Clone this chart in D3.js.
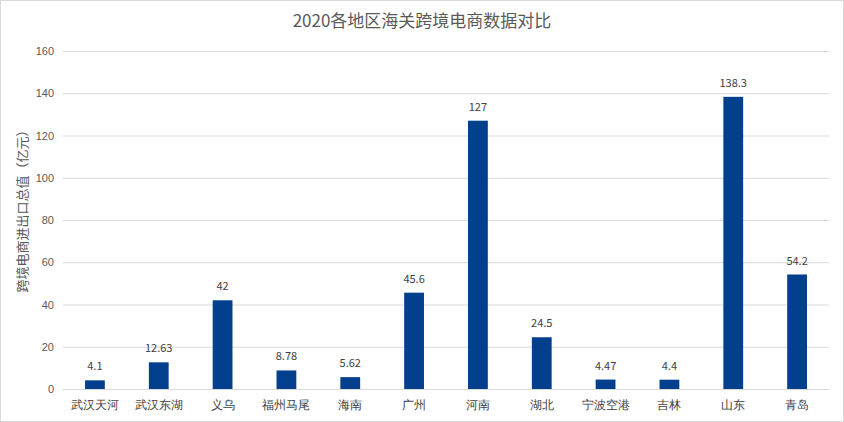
<!DOCTYPE html>
<html><head><meta charset="utf-8">
<script src="https://cdn.jsdelivr.net/npm/d3@7"></script>
<style>
html,body{margin:0;padding:0;background:#fff;}
svg{display:block;font-family:"Noto Sans CJK SC","Noto Sans",sans-serif;}
</style></head>
<body>
<script>
const categories = ["武汉天河","武汉东湖","义乌","福州马尾","海南","广州","河南","湖北","宁波空港","吉林","山东","青岛"];
const values = [4.1, 12.63, 42, 8.78, 5.62, 45.6, 127, 24.5, 4.47, 4.4, 138.3, 54.2];
const valueLabels = ["4.1","12.63","42","8.78","5.62","45.6","127","24.5","4.47","4.4","138.3","54.2"];
const yTicks = [0,20,40,60,80,100,120,140,160];
const title = "2020各地区海关跨境电商数据对比";
const yTitle = "跨境电商进出口总值（亿元）";

const W = 844, H = 422;
const m = {left:63, right:15, top:51, bottom:33};
const svg = d3.select("body").append("svg").attr("width", W).attr("height", H);
svg.append("rect").attr("x",0.5).attr("y",0.5).attr("width",W-1).attr("height",H-1)
  .attr("fill","#fff").attr("stroke","#d9d9d9");

const x = d3.scaleBand().domain(categories).range([m.left, W-m.right]).paddingInner(0.69).paddingOuter(0.345);
const y = d3.scaleLinear().domain([0,160]).range([H-m.bottom, m.top]);

svg.append("text").attr("x", W/2).attr("y", 27).attr("text-anchor","middle")
  .attr("font-size",17).attr("fill","#595959").text(title);

const ya = svg.append("g").attr("transform",`translate(${m.left},0)`)
  .call(d3.axisLeft(y).tickValues(yTicks).tickSize(-(W-m.left-m.right)).tickPadding(9));
ya.select(".domain").remove();
ya.selectAll(".tick line").attr("stroke","#d9d9d9");
ya.selectAll(".tick text").attr("fill","#595959").attr("font-size",11);

const xa = svg.append("g").attr("transform",`translate(0,${H-m.bottom})`)
  .call(d3.axisBottom(x).tickSize(0).tickPadding(11));
xa.select(".domain").attr("stroke","#d9d9d9");
xa.selectAll(".tick text").attr("fill","#404040").attr("font-size",12);

svg.append("text").attr("transform",`translate(27,208) rotate(-90)`)
  .attr("text-anchor","middle").attr("font-size",13).attr("fill","#595959").text(yTitle);

svg.selectAll(".bar").data(values).enter().append("rect")
  .attr("x",(d,i)=>x(categories[i])).attr("width",x.bandwidth())
  .attr("y",d=>y(d)).attr("height",d=>y(0)-y(d)).attr("fill","#023f8c");

svg.selectAll(".vl").data(values).enter().append("text")
  .attr("x",(d,i)=>x(categories[i])+x.bandwidth()/2).attr("y",d=>y(d)-10)
  .attr("text-anchor","middle").attr("font-size",11).attr("fill","#404040")
  .text((d,i)=>valueLabels[i]);
</script>
</body></html>
